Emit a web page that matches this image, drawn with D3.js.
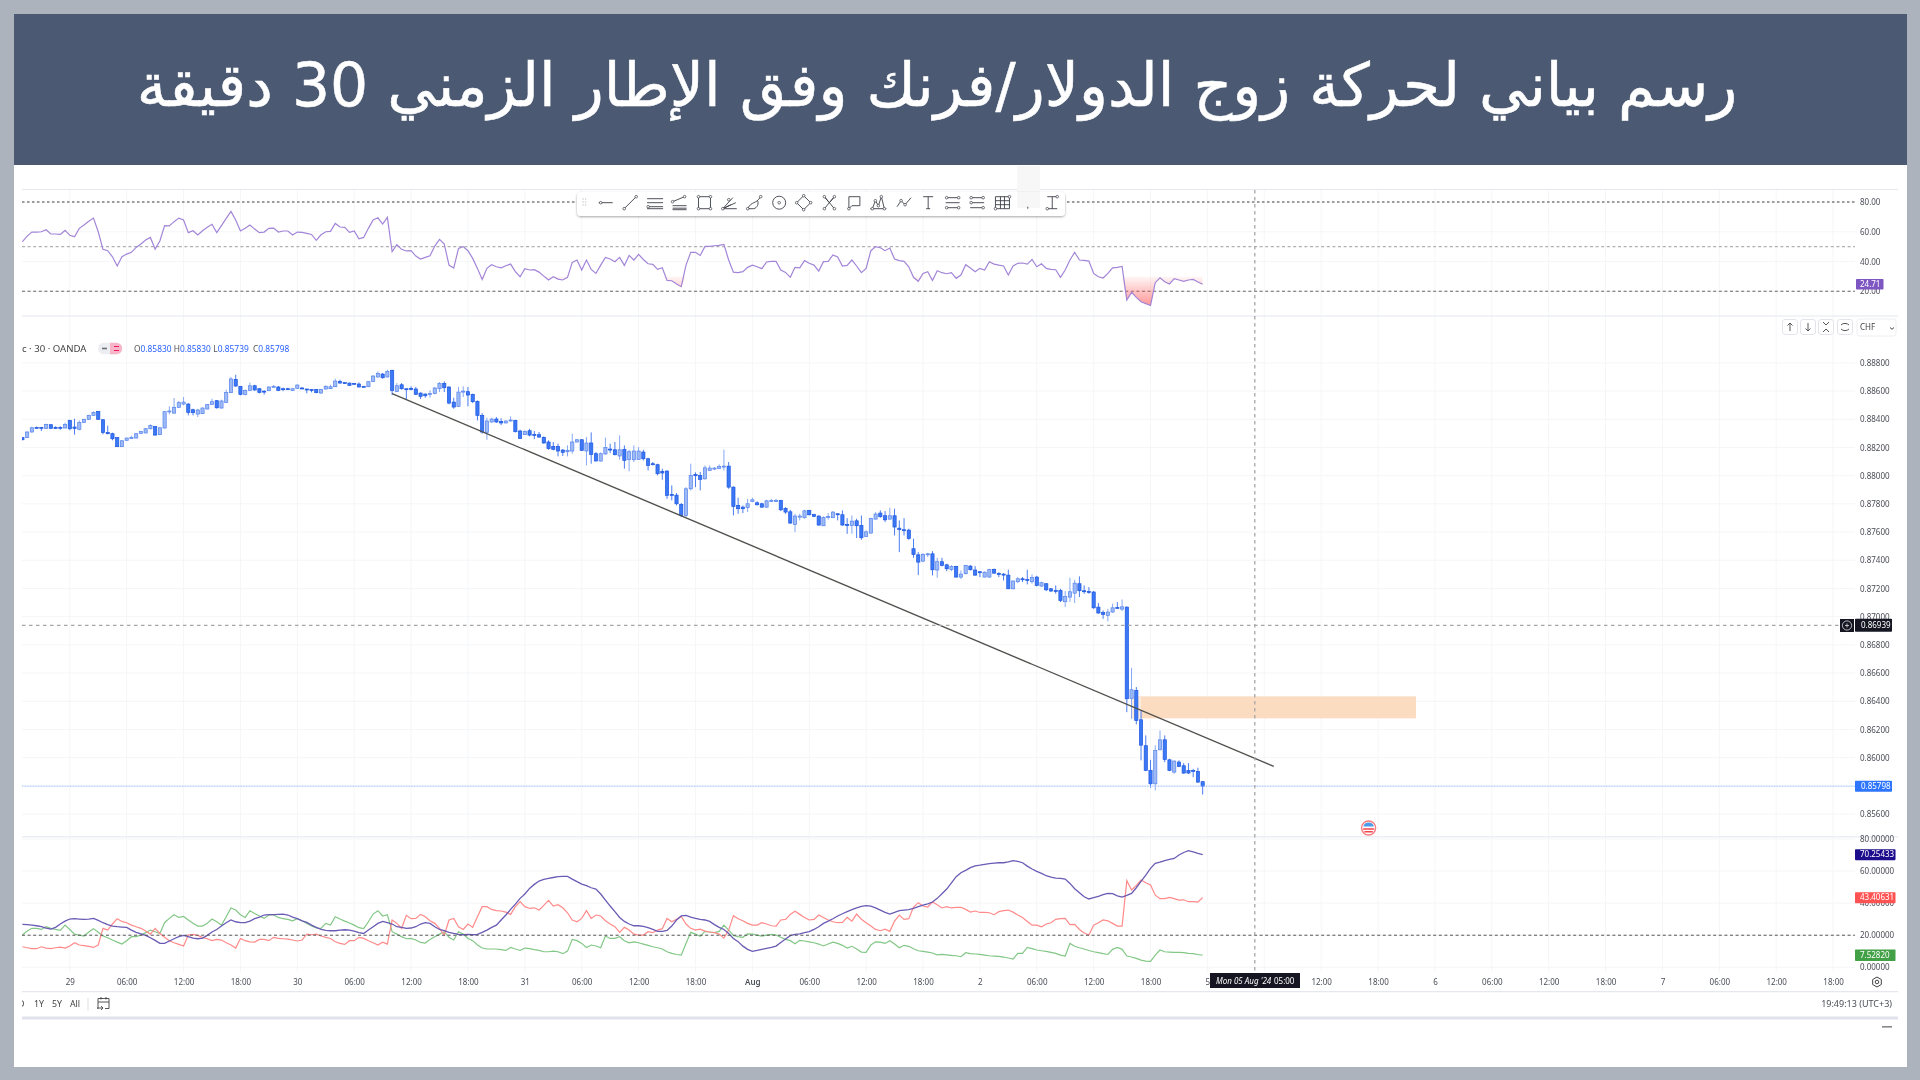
<!DOCTYPE html>
<html lang="ar"><head><meta charset="utf-8"><title>USD/CHF</title>
<script src="https://cdn.jsdelivr.net/npm/d3@7"></script>
<style>html,body{margin:0;padding:0;background:#adb3bd;width:1920px;height:1080px;overflow:hidden}svg{display:block}text{font-family:"Noto Sans",sans-serif}</style>
</head><body><svg id="c" width="1920" height="1080"></svg>
<script>
const titleText="رسم بياني لحركة زوج الدولار/فرنك وفق الإطار الزمني 30 دقيقة";
const firstBar=-10;
const opens=[88270,88270,88310,88343,88343,88336,88362,88343,88343,88338,
88392,88345,88329,88378,88400,88428,88456,88397,88307,88298,
88270,88206,88251,88265,88267,88300,88303,88333,88348,88291,
88338,88452,88444,88485,88508,88508,88468,88437,88440,88473,
88506,88532,88480,88520,88589,88683,88634,88577,88605,88638,
88617,88600,88603,88631,88629,88617,88617,88605,88619,88622,
88615,88612,88612,88586,88615,88617,88631,88669,88660,88657,
88655,88650,88634,88631,88669,88700,88721,88700,88747,88598,
88645,88617,88619,88615,88586,88579,88577,88582,88617,88655,
88629,88522,88492,88596,88596,88577,88527,88428,88307,88381,
88402,88385,88374,88388,88392,88317,88291,88319,88293,88291,
88272,88239,88208,88208,88182,88170,88175,88239,88255,88175,
88232,88156,88104,88154,88189,88184,88140,88187,88114,88113,
88115,88168,88120,88085,88078,88031,88033,87867,87862,87796,
87718,87907,88009,88002,87978,88038,88047,88052,88061,88068,
87919,87789,87777,87775,87818,87808,87801,87777,87822,87822,
87825,87768,87744,87654,87706,87702,87754,87725,87714,87645,
87706,87702,87730,87723,87654,87647,87680,87647,87569,87593,
87692,87735,87716,87692,87716,87628,87617,87614,87482,87439,
87394,87442,87446,87331,87390,87368,87335,87357,87281,87305,
87359,87331,87319,87281,87281,87335,87307,87302,87295,87198,
87248,87269,87264,87248,87281,87217,87234,87198,87186,87186,
87106,87139,87167,87234,87184,87179,87175,87068,87030,87009,
87033,87066,87054,87068,86420,86477,86269,86085,85910,85815,
86056,86127,85985,85898,85969,85943,85910,85910,85903,85830];
const highs=[88274,88315,88347,88348,88345,88369,88364,88350,88350,88376,
88397,88404,88392,88404,88433,88456,88458,88400,88355,88305,
88274,88251,88270,88284,88303,88317,88338,88364,88352,88343,
88458,88492,88551,88530,88558,88515,88475,88473,88485,88508,
88546,88537,88539,88610,88700,88716,88636,88612,88660,88645,
88622,88605,88634,88643,88636,88624,88624,88620,88648,88629,
88615,88612,88615,88615,88641,88645,88688,88681,88662,88660,
88657,88662,88636,88669,88712,88740,88728,88752,88752,88657,
88657,88617,88634,88629,88591,88584,88605,88629,88664,88669,
88634,88553,88629,88634,88629,88582,88534,88444,88411,88411,
88416,88407,88392,88421,88397,88326,88322,88333,88317,88310,
88279,88251,88239,88227,88189,88215,88298,88260,88260,88274,
88307,88168,88165,88270,88227,88239,88286,88215,88184,88215,
88203,88184,88127,88097,88085,88050,88038,87931,87877,87806,
87919,88085,88024,88026,88073,88073,88061,88080,88184,88097,
87924,87844,87789,87836,87844,87818,87808,87829,87836,87836,
87829,87777,87758,87730,87730,87758,87758,87730,87718,87711,
87735,87749,87735,87754,87699,87718,87695,87718,87612,87702,
87742,87754,87749,87773,87766,87683,87699,87624,87553,87458,
87451,87453,87465,87418,87418,87375,87366,87361,87328,87368,
87366,87359,87323,87321,87340,87342,87316,87309,87333,87257,
87281,87281,87333,87300,87290,87248,87238,87203,87222,87198,
87182,87276,87262,87286,87222,87210,87182,87097,87045,87056,
87092,87104,87122,87073,86638,86501,86335,86158,85985,86087,
86193,86158,85992,85981,85981,85962,85962,85921,85929,85830];
const lows=[88251,88270,88305,88333,88317,88333,88333,88331,88326,88336,
88322,88291,88322,88376,88397,88426,88397,88293,88293,88251,
88203,88203,88248,88262,88265,88298,88300,88329,88286,88288,
88336,88435,88440,88480,88499,88428,88428,88416,88437,88470,
88504,88475,88475,88515,88586,88631,88570,88570,88603,88603,
88584,88575,88600,88629,88600,88600,88610,88603,88617,88615,
88584,88591,88584,88582,88610,88615,88629,88653,88653,88638,
88648,88627,88627,88629,88667,88697,88688,88697,88572,88593,
88610,88539,88605,88572,88544,88553,88553,88577,88593,88593,
88506,88475,88487,88558,88492,88515,88392,88298,88255,88374,
88374,88359,88371,88383,88307,88260,88288,88279,88260,88270,
88227,88184,88180,88137,88140,88137,88156,88236,88175,88073,
88085,88104,88100,88149,88161,88144,88114,88050,88031,88097,
88113,88108,88037,88073,88002,87971,87836,87825,87789,87706,
87706,87896,87919,87896,87971,88033,88040,88047,88037,87907,
87718,87730,87735,87742,87813,87789,87773,87773,87813,87813,
87749,87730,87659,87600,87683,87695,87718,87706,87645,87643,
87688,87700,87683,87645,87588,87588,87558,87546,87565,87590,
87690,87702,87671,87688,87576,87458,87576,87546,87418,87295,
87387,87423,87293,87276,87357,87323,87323,87279,87267,87300,
87328,87290,87281,87279,87276,87305,87281,87257,87196,87193,
87238,87245,87229,87234,87215,87212,87182,87175,87163,87104,
87068,87104,87097,87139,87163,87163,87056,87021,86985,86966,
87028,87056,87040,86323,86276,86236,85981,85905,85787,85768,
86052,85969,85905,85886,85933,85886,85886,85862,85820,85739];
const closes=[88255,88310,88340,88338,88336,88364,88336,88338,88336,88364,
88333,88336,88378,88400,88428,88449,88400,88307,88298,88262,
88206,88248,88267,88270,88298,88314,88333,88357,88288,88340,
88454,88459,88485,88518,88522,88449,88447,88466,88480,88504,
88525,88482,88530,88591,88686,88636,88577,88605,88638,88608,
88591,88593,88629,88634,88605,88612,88615,88617,88643,88617,
88612,88610,88589,88612,88634,88631,88671,88657,88655,88641,
88650,88629,88629,88667,88707,88726,88695,88740,88605,88638,
88617,88610,88612,88577,88563,88567,88582,88622,88653,88624,
88515,88487,88593,88600,88572,88525,88428,88310,88388,88402,
88381,88374,88388,88395,88312,88265,88314,88288,88288,88274,
88232,88192,88187,88175,88166,88180,88239,88255,88180,88232,
88151,88104,88156,88199,88184,88149,88184,88109,88170,88175,
88175,88120,88073,88080,88014,88019,87860,87862,87801,87718,
87907,88002,88000,87974,88056,88054,88054,88066,88068,87919,
87782,87766,87766,87801,87829,87794,87777,87822,87825,87825,
87758,87742,87664,87714,87714,87751,87723,87711,87650,87704,
87711,87742,87725,87650,87650,87678,87645,87560,87602,87697,
87728,87709,87687,87716,87636,87617,87614,87555,87442,87387,
87442,87446,87333,87390,87364,87340,87357,87281,87302,87364,
87333,87295,87316,87316,87335,87309,87302,87295,87198,87253,
87269,87264,87260,87279,87222,87241,87191,87182,87184,87115,
87144,87177,87238,87184,87177,87175,87063,87026,87016,87033,
87063,87063,87070,86418,86482,86264,86089,85910,85815,86052,
86127,85988,85910,85976,85938,85891,85891,85905,85827,85798];
const rsiValues=[53.3,57.1,59.8,59.8,60,61.4,58.5,58.5,58.2,60.9,
57.6,56.7,62.3,64.5,67,69.2,60,48.2,47.3,43.2,
37,43.2,45,46.2,49.5,51.8,54.4,56.2,48.4,53.8,
64.1,63.9,66.8,69.2,67.9,59.4,60.7,57.8,60.7,63,
65,59.4,64.1,69,73.7,67.9,60.5,62.3,64.5,61.8,
59.4,59.8,62.3,62.5,59.8,60.5,60.5,57.8,59.8,59.6,
58.9,58.2,54.2,58,60,60.3,65.6,63.2,63,59.6,
60.5,55.3,56.2,62.3,67.9,69.4,65.2,69.7,46.6,51.3,
48.2,47.1,47.3,43.7,41.7,42.8,43.9,50.4,54.9,51.8,
37.6,35.6,48.8,50,47.3,42.1,35.4,28,35.4,37.9,
36.5,35.8,37.2,38.3,33.2,29.8,35.2,34.3,34.5,32.9,
30.2,27.6,29.8,28.2,27.6,29.4,39.4,41,34.3,41,
34.7,32,37.6,42.8,41.7,39.9,42.8,37.4,44.1,41,
44.8,41.4,38.5,38.1,34.7,35.8,27.3,27.1,24.9,23.1,
37.6,46.2,46.2,44.1,50.2,50.2,50.6,50.9,51.5,41,
32.9,32.5,33.2,36.1,37.6,36.5,35.2,39.7,40.1,40.1,
34.3,32.7,29.4,36.1,35.8,40.6,38.8,37.6,33.6,39.9,
40.1,44.4,43,37,37.4,41,37,32.5,35.4,47.3,
50,49.3,47.3,49.1,41.7,40.6,40.1,36.5,29.4,26.7,
32,33.2,27.3,33.8,32.5,31.8,32.5,28.7,30.9,37.9,
35.6,33.2,35.4,34.3,39.9,38.3,37.6,37,30.9,37,
38.8,39,38.3,41.4,36.5,38.5,35.4,34.7,34.5,29.4,
34.3,41,46.2,41,40.8,40.3,32,29.8,28.9,32,
35.8,36.1,36.7,14.1,19.3,15.9,13,11.7,10.5,25.8,
29.1,26.4,24.9,28.5,27.6,26.7,27.6,28,26.2,24.71];
const adxValues=[26.8,26.6,26.3,25.9,25.3,24.5,23.8,24.9,27,28.8,
30.1,30.3,30.1,29.9,30.1,30.5,29.3,27.8,26.6,25.7,
25.3,25.1,24.9,23.2,21.8,20.9,19.9,18.4,16.8,14.9,
14.9,16.4,17.8,19.1,19.9,19.1,18.2,17.8,18.2,19.9,
22,23.6,25.7,27.8,29.5,28.4,27.8,27.8,28.8,30.3,
31.3,32.6,32.8,32.8,33,33.2,32.6,31.3,30.3,29,
28,26.3,24.9,23.6,23,22.8,22.8,23.2,23.4,23.2,
22.6,21.6,21.1,23.2,25.3,27.4,28.6,27.8,27,25.3,
24.9,24.3,24.5,25.3,27,27.8,27.4,25.3,23.6,22.8,
21.8,21.1,20.5,20.3,20.5,20.3,20.5,21.8,23.2,24.9,
26.3,29.5,32.6,36.1,39.4,43,45.7,49.2,51.7,53.8,
54.8,55.4,56,56.5,56.7,56.7,55,53.4,51.9,50.9,
49.6,48.8,45.7,41.9,38.2,34.7,31.1,28.6,27,25.9,
25.9,25.5,24.7,23.6,22.4,22.4,23,25.7,29.5,32,
32.4,31.3,30.5,29.9,29.5,28.6,26.6,24.9,23.6,21.1,
18,16,13.2,11.2,9.9,10.5,11.2,11.8,12.4,13.2,
15.5,17.6,19.7,20.5,20.9,21.6,22.2,23.6,25.3,27.4,
28.8,30.3,32,33.4,34.7,35.9,37,38,38.4,38.2,
37.1,35.7,34.2,33.2,34.2,35.3,35.7,35.9,36.7,37.8,
38.8,39.6,40.7,43,45.9,48.8,52.7,56.5,59,60.4,
62.1,63.3,63.7,64.2,64.6,65,65.2,65.2,65.8,66.5,
66,65.2,63.1,61.3,59.8,58.6,57.1,56.3,55.6,55.4,
55,52.3,49,46.5,44,42.6,43.4,44.2,45.3,46.1,
45.9,44.6,43.8,44.8,46.1,49.6,53.6,57.5,61.7,64.8,
65.6,66.5,67.3,67.9,70,71.6,72.7,71.9,71,70.25];
const plusDiValues=[12.8,12.2,11.6,11.6,12.8,12,11.6,12.2,12.6,12,
13.3,15.3,13.9,13.5,13,12.4,13.9,24.3,23.2,27,
30.3,28.6,27.8,26.3,25.3,24.3,22.6,20.7,24.3,21.1,
18.7,16.6,15.3,14.3,13.3,20.1,20.5,19.9,18.7,17.8,
16.6,17.4,17,15.3,13.9,12,18,16.6,15.9,15.7,
17.4,17.4,16.6,18.7,18,17.8,17.6,17,16.4,17,
20.7,20.3,20.7,19.5,18.7,18,15.9,14.9,14.3,16.6,
16.6,18.7,18,16.6,15.3,13.9,15.7,14.5,29.5,27.4,
24.3,32.4,30.3,30.5,33,31.5,29,27.4,24.3,20.1,
29.5,30.5,25.3,23.6,27,24.9,31.5,37.8,37.8,36.1,
35.3,35.1,34.4,33,37.8,40.9,37.8,36.7,37.1,35.7,
38.6,41.7,38.2,39,37.1,34,29.5,28.4,30.5,35.3,
30.5,32.6,32,29,27,25.3,21.8,24.9,23.2,20.7,
20.1,20.1,22.2,21.6,23.2,24.1,30.5,28.4,29.9,31.7,
27,24.3,23.2,23.8,22.6,22,21.6,20.7,18.2,23.2,
32.2,30.3,29,27.4,26.3,26.3,27.8,27,25.9,25.7,
29.5,29.9,33,34.9,33,31.1,29.5,29.9,32.6,31.1,
29.5,28.4,27.8,28,31.1,28.8,33.2,29.9,27.8,25.7,
23.6,22.8,23.8,22.4,28.8,32.6,29.9,30.3,37.6,40.3,
38.2,37.6,40.7,39,37,37.8,37,37.4,37.4,36.1,
34.4,35.1,34.2,34.2,34,32.8,34.7,35.3,35.7,34.4,
32.6,31.1,28.6,26.3,26.3,25.3,27,27.8,29.9,30.3,
30.5,26.6,26.8,23.6,21.4,20.1,26.3,27.8,29.5,29,
27.4,25.7,25.7,54,48.2,51.1,54.4,52.7,51.3,45,
42.8,42.8,43.6,42.8,41.9,42.1,40.9,40.9,40.7,43.41];
const minusDiValues=[20.1,22.6,24.3,24.3,23.6,25.3,24.3,23.6,23,26.3,
23.6,20.7,20.1,19.5,22,24.1,21.8,19.5,18.4,17,
15.7,14.5,16.6,19.1,19.1,20.1,21.6,23.2,22.2,21.1,
27.8,30.5,32.8,31.1,31.7,29.5,27.4,25.7,25.7,27.4,
30.1,28.4,26.3,31.5,37,35.7,32.8,31.1,35.3,33.6,
32,30.5,32.6,32.6,31.1,30.3,29.9,29,30.3,29,
27.4,25.7,24.5,24.3,27.4,26.3,31.5,30.1,28.8,27.6,
26.3,24.7,24.1,28.4,33.2,35.3,32,32.8,22.2,20.7,
19.1,17.8,18,17,15.5,15.1,17.4,19.1,20.7,22.2,
18.7,17,22.2,20.7,18,16.6,13.9,12,11.4,11.4,
11.4,11,10.5,12.4,11.4,10.5,12,11.6,11,10.5,
9.7,9.7,10.1,9.7,8.5,10.1,17.4,16.6,14.9,12.4,
13.9,13.3,12.2,19.5,18,18,19.1,16.6,15.3,15.9,
15.3,14.5,13.7,12.8,12.2,11.4,9.7,8.7,8,7.6,
14.9,21.8,20.7,19.3,22.4,22,21.6,22.4,26.3,23.2,
19.9,19.1,18.7,20.9,20.7,20.1,19.5,20.1,20.5,20.1,
18.7,17.4,16.6,14.7,16.8,16.4,15.9,15.3,14.5,13.3,
14.5,15.7,14.9,13.7,12,13.1,11.4,9.5,9.3,13.9,
15.9,15.7,14.9,16.6,14.5,12.2,13.7,13.1,11.6,10.3,
9.9,9.5,8.9,7.8,8,7.8,7.4,7.2,6.6,9.1,
8.5,8.3,8,7.6,7.2,7,6.8,6.4,5.8,5.1,
8.7,8.7,12.4,11.6,10.8,10.3,9.9,9.3,8.7,7.6,
7,14.9,13.1,12.2,11.4,10.5,9.7,9.1,8.5,8,
11.2,12.4,11.2,7,6.4,5.6,4.5,3.9,3.7,7.6,
10.8,9.7,9.5,9.3,9.3,9.1,8.7,8.5,8,7.53];
const priceTicks=[.888,.886,.884,.882,.88,.878,.876,.874,.872,.87,.868,.866,.864,.862,.86,.858,.856];
const rsiTicks=[80,60,40,20];
const rsiBands=[80,50,20];
const dmiTicks=[80,60,40,20,0];
const timeLabels=["29","06:00","12:00","18:00","30","06:00","12:00","18:00","31","06:00","12:00","18:00","Aug","06:00","12:00","18:00","2","06:00","12:00","18:00","5","06:00","12:00","18:00","6","06:00","12:00","18:00","7","06:00","12:00","18:00"];
const timeTickStep=12;
const trendIdx=[68,254], trendPrice=[.88582,.85938];
const zoneIdx=[224,226,284], zonePrice=[.86435,.86279];
const crossIdx=250, crossPrice=.86939, lastPrice=.85798;
const legendLabels=["O","H","L","C"], legendValues=["0.85830","0.85830","0.85739","0.85798"];
const rangeButtons=["D","1Y","5Y","All"];

const svg=d3.select("#c");
const L=22,R=1898,AX=1855;
svg.append("rect").attr("x",14).attr("y",14).attr("width",1893).attr("height",1053).attr("fill","#fff");
svg.append("rect").attr("x",14).attr("y",14).attr("width",1893).attr("height",151).attr("fill","#4b5a72");
svg.append("text").attr("x",937).attr("y",106).attr("text-anchor","middle").attr("direction","rtl")
  .attr("fill","#fff").attr("stroke","#fff").attr("stroke-width",.5).style("font-family","'DejaVu Sans'").attr("font-size",60).text(titleText);

const defs=svg.append("defs");
defs.append("clipPath").attr("id","plot").append("rect").attr("x",L).attr("y",189).attr("width",R-L).attr("height",785);
defs.append("filter").attr("id","soft").attr("x",0).attr("y",0).attr("width",1).attr("height",1).append("feGaussianBlur").attr("stdDeviation",.42);
const g=svg.append("g").attr("filter","url(#soft)");

const x=d3.scaleLinear().domain([0,240]).range([69.8,1207.4]);
const y=d3.scaleLinear().domain([.888,.856]).range([362.9,814.1]);
const ry=d3.scaleLinear().domain([80,20]).range([202,291.3]);
const dy=d3.scaleLinear().domain([80,0]).range([839,967.3]);
const idx=i=>firstBar+i;
const timeTicks=timeLabels.map((_,i)=>i*timeTickStep);

// grid
const grid=g.append("g").attr("stroke","#f5f6f8").attr("stroke-width",1);
grid.selectAll("line.v").data(timeTicks).join("line").attr("x1",d=>x(d)).attr("x2",d=>x(d)).attr("y1",190).attr("y2",972);
grid.selectAll("line.p").data(priceTicks).join("line").attr("class","p").attr("x1",L).attr("x2",AX).attr("y1",d=>y(d)).attr("y2",d=>y(d));
grid.selectAll("line.r").data(rsiTicks).join("line").attr("class","r").attr("x1",L).attr("x2",AX).attr("y1",d=>ry(d)).attr("y2",d=>ry(d));
grid.selectAll("line.d").data(dmiTicks).join("line").attr("class","d").attr("x1",L).attr("x2",AX).attr("y1",d=>dy(d)).attr("y2",d=>dy(d));

// pane separators
[[189.5,1,"#e6e8ee"],[316,1.2,"#e6e8f0"],[836.7,1.4,"#eceef4"],[991.7,1.2,"#e6e8f0"],[1018,3,"#e0e3eb"]].forEach(([yy,w,c])=>
  g.append("line").attr("x1",L).attr("x2",R).attr("y1",yy).attr("y2",yy).attr("stroke",c).attr("stroke-width",w));

// RSI bands
g.selectAll("line.band").data(rsiBands).join("line").attr("class","band").attr("x1",L).attr("x2",AX)
 .attr("y1",d=>ry(d)).attr("y2",d=>ry(d)).attr("stroke",d=>d===50?"#b0b0b0":d===20?"#666":"#808080")
 .attr("stroke-width",d=>d===80?1.6:1.1).attr("stroke-dasharray",d=>d===80?"2.5 2.5":"3 2.6");

// RSI oversold fill
const grad=defs.append("linearGradient").attr("id","os").attr("gradientUnits","userSpaceOnUse").attr("x1",0).attr("x2",0).attr("y1",ry(31)).attr("y2",ry(10));
grad.append("stop").attr("offset",0).attr("stop-color","#ff5252").attr("stop-opacity",.02);
grad.append("stop").attr("offset",1).attr("stop-color","#ff5252").attr("stop-opacity",.62);
const pg=g.append("g").attr("clip-path","url(#plot)");
pg.append("path").datum(rsiValues).attr("fill","url(#os)")
  .attr("d",d3.area().x((d,i)=>x(idx(i))).y0(ry(30)).y1(d=>ry(Math.min(d,30))));
const ln=(sc)=>d3.line().x((d,i)=>x(idx(i))).y(d=>sc(d));
pg.append("path").datum(rsiValues).attr("fill","none").attr("stroke","#a285d8").attr("stroke-width",1.2).attr("d",ln(ry));

// price crosshair + last price
g.append("line").attr("x1",L).attr("x2",1840).attr("y1",y(crossPrice)).attr("y2",y(crossPrice)).attr("stroke","#a6a6a6").attr("stroke-width",1.3).attr("stroke-dasharray","3.5 3.5");
g.append("line").attr("x1",L).attr("x2",AX).attr("y1",y(lastPrice)).attr("y2",y(lastPrice)).attr("stroke","#9cc0ff").attr("stroke-width",1).attr("stroke-dasharray","1 .6");

// zone
pg.append("rect").attr("x",x(zoneIdx[0])).attr("width",x(zoneIdx[2])-x(zoneIdx[0])).attr("y",y(zonePrice[0])).attr("height",y(zonePrice[1])-y(zonePrice[0])).attr("fill","#fbdcc1");
pg.append("rect").attr("x",x(zoneIdx[0])).attr("width",x(zoneIdx[1])-x(zoneIdx[0])).attr("y",y(zonePrice[0])).attr("height",y(zonePrice[1])-y(zonePrice[0])).attr("fill","#fdeadb");

// candles
const bars=opens.map((o,i)=>({i:idx(i),o,h:highs[i],l:lows[i],c:closes[i]}));
const cg=pg.append("g");
cg.selectAll("line").data(bars).join("line").attr("x1",d=>x(d.i)).attr("x2",d=>x(d.i)).attr("y1",d=>y(d.h/1e5)).attr("y2",d=>y(d.l/1e5))
  .attr("stroke",d=>d.c>=d.o?"#86a8f4":"#4a7cf0").attr("stroke-width",1);
cg.selectAll("rect").data(bars).join("rect").attr("x",d=>x(d.i)-1.6).attr("width",3.2)
  .attr("y",d=>y(Math.max(d.o,d.c)/1e5)).attr("height",d=>Math.max(1,Math.abs(y(d.o/1e5)-y(d.c/1e5))))
  .attr("fill",d=>d.c>=d.o?"#9dbaf5":"#3b78f5").attr("stroke",d=>d.c>=d.o?"#5684ee":"#1f57e0").attr("stroke-width",.7);

// trend line
pg.append("line").attr("x1",x(trendIdx[0])).attr("y1",y(trendPrice[0])).attr("x2",x(trendIdx[1])).attr("y2",y(trendPrice[1])).attr("stroke","#50504c").attr("stroke-width",1.3);

// DMI
g.append("line").attr("x1",L).attr("x2",AX).attr("y1",dy(20)).attr("y2",dy(20)).attr("stroke","#555").attr("stroke-dasharray","3 2.6");
pg.append("path").datum(minusDiValues).attr("fill","none").attr("stroke","#82c785").attr("stroke-width",1.2).attr("d",ln(dy));
pg.append("path").datum(plusDiValues).attr("fill","none").attr("stroke","#ff8a8a").attr("stroke-width",1.2).attr("d",ln(dy));
pg.append("path").datum(adxValues).attr("fill","none").attr("stroke","#6a5bb5").attr("stroke-width",1.3).attr("d",ln(dy));

// time crosshair
g.append("line").attr("x1",x(crossIdx)).attr("x2",x(crossIdx)).attr("y1",190).attr("y2",972).attr("stroke","#a6a6a6").attr("stroke-width",1.3).attr("stroke-dasharray","3.5 3.5");

// axes
const style=(s,fs=8,fill="#4a4d57")=>{s.select(".domain").remove();s.selectAll("line").remove();s.selectAll("text").attr("fill",fill).attr("font-size",fs).style("font-family","'Noto Sans'");};
const axG=g.append("g");
axG.append("g").attr("transform","translate(1860,0)").call(d3.axisRight(y).tickValues(priceTicks).tickSize(0).tickPadding(0).tickFormat(d3.format(".5f"))).call(style);
axG.append("g").attr("transform","translate(1860,0)").call(d3.axisRight(ry).tickValues(rsiTicks).tickSize(0).tickPadding(0).tickFormat(d3.format(".2f"))).call(style);
axG.append("g").attr("transform","translate(1860,0)").call(d3.axisRight(dy).tickValues(dmiTicks).tickSize(0).tickPadding(0).tickFormat(d3.format(".5f"))).call(style);
const tAx=axG.append("g").attr("transform","translate(0,979)").call(d3.axisBottom(x).tickValues(timeTicks).tickSize(0).tickPadding(0).tickFormat((d,i)=>timeLabels[i])).call(style);
tAx.selectAll("text").filter(function(){return this.textContent==="Aug";}).attr("font-weight",600);

// badges
const badge=(x0,x1,yc,h,fill,txt,tx=x0+5)=>{g.append("rect").attr("x",x0).attr("width",x1-x0).attr("y",yc-h/2).attr("height",h).attr("fill",fill).attr("rx",.8);
  g.append("text").attr("x",tx).attr("y",yc+.5).attr("dominant-baseline","middle").attr("fill","#fff").attr("font-size",8).text(txt);};
badge(1856,1883.5,ry(rsiValues[249]),10.5,"#7e57c2","24.71",1860);
badge(1855,1892,y(crossPrice),13,"#131722",d3.format(".5f")(crossPrice),1861);
g.append("rect").attr("x",1840).attr("y",619).attr("width",14).attr("height",13).attr("fill","#131722");
g.append("circle").attr("cx",1847).attr("cy",625.5).attr("r",4.6).attr("fill","none").attr("stroke","#ddd").attr("stroke-width",.8);
g.append("path").attr("d","M1845 625.5h4M1847 623.5v4").attr("stroke","#ddd").attr("stroke-width",.8);
badge(1855,1892,y(lastPrice),11,"#2f76ff",d3.format(".5f")(lastPrice),1861);
badge(1855,1895.5,dy(adxValues[249]),11,"#1d0a8c",d3.format(".5f")(70.25433),1860);
badge(1855,1895.5,dy(plusDiValues[249]),11,"#ff5252",d3.format(".5f")(43.40631),1860);
badge(1855,1895.5,dy(minusDiValues[249]),11.5,"#43a047",d3.format(".5f")(7.5282),1860);

// crosshair time label
g.append("rect").attr("x",1210).attr("y",973).attr("width",90).attr("height",15).attr("fill","#131722");
g.append("text").attr("x",1216).attr("y",982).attr("dominant-baseline","middle").attr("fill","#fff").attr("font-size",8).attr("font-style","italic").text("Mon 05 Aug '24");
g.append("text").attr("x",1274).attr("y",982).attr("dominant-baseline","middle").attr("fill","#fff").attr("font-size",8).text("05:00");

// legend
g.append("text").attr("x",22).attr("y",351.5).attr("font-size",9.6).attr("fill","#444").text("c · 30 · OANDA");
g.append("rect").attr("x",98).attr("y",342.7).attr("width",24).attr("height",11.5).attr("rx",5.5).attr("fill","#eceef2");
g.append("path").attr("d","M110 342.7h6.5a5.7 5.7 0 0 1 0 11.5h-6.5z").attr("fill","#f6b6c8");
g.append("path").attr("d","M102 348.5h5").attr("stroke","#6d6f78").attr("stroke-width",1.6);
g.append("path").attr("d","M114 346.5h5M114 350.5h5").attr("stroke","#e91e63").attr("stroke-width",1.1);
const lx=d3.scalePoint().domain(legendLabels).range([134,253]);
legendLabels.forEach((k,i)=>{const t=g.append("text").attr("x",lx(k)).attr("y",351.5).attr("font-size",8.4);
  t.append("tspan").attr("fill","#555").text(k);t.append("tspan").attr("fill","#2962ff").text(legendValues[i]);});

// bottom bar
const rx=[22,39,57,75];
rangeButtons.forEach((t,i)=>g.append("text").attr("x",i?rx[i]:18).attr("y",1005).attr("text-anchor",i?"middle":"start").attr("dominant-baseline","middle").attr("font-size",8.8).attr("fill","#444").text(t));
g.append("rect").attr("x",14).attr("y",995).attr("width",8).attr("height",18).attr("fill","#fff");
g.append("line").attr("x1",88).attr("x2",88).attr("y1",998).attr("y2",1011).attr("stroke","#dfe1e6");
g.append("path").attr("d","M98 1009v-10.5h11v10h-4M98 1002h11M101 997v2.5M106 997v2.5M97 1008h6M101 1006l2 2-2 2").attr("fill","none").attr("stroke","#444").attr("stroke-width",.9);
g.append("text").attr("x",1892).attr("y",1005).attr("text-anchor","end").attr("dominant-baseline","middle").attr("font-size",9).attr("fill","#4a4d57").text("19:49:13 (UTC+3)");
g.append("rect").attr("x",1882).attr("y",1026).attr("width",10).attr("height",1.6).attr("fill","#888");
// settings gear
g.append("path").attr("d",d3.line().curve(d3.curveLinearClosed)(d3.range(6).map(k=>[1877+5*Math.sin(k*Math.PI/3),982+5*Math.cos(k*Math.PI/3)]))).attr("fill","none").attr("stroke","#444");
g.append("circle").attr("cx",1877).attr("cy",982).attr("r",1.8).attr("fill","none").attr("stroke","#444");

// price scale buttons
[[1790,"M0 4V-4M-2.5 -1.5L0 -4L2.5 -1.5"],[1808,"M0 -4V4M-2.5 1.5L0 4L2.5 1.5"],[1826,"M-3 -5L0 -2L3 -5M-3 5L0 2L3 5"],[1845,"M-4 -2a5 4 0 0 1 8 0M4 2a5 4 0 0 1 -8 0"]].forEach(([cx,p])=>{
  const b=g.append("g").attr("transform",`translate(${cx},327)`);
  b.append("rect").attr("x",-7.5).attr("y",-7.5).attr("width",15).attr("height",15).attr("rx",2.5).attr("fill","#fff").attr("stroke","#e3e5ea");
  b.append("path").attr("d",p).attr("fill","none").attr("stroke","#444").attr("stroke-width",.9);});
g.append("rect").attr("x",1857).attr("y",319).attr("width",39).attr("height",17).attr("rx",2.5).attr("fill","#fff").attr("stroke","#eceef2");
g.append("text").attr("x",1860).attr("y",328).attr("dominant-baseline","middle").attr("font-size",8).attr("fill","#444").text("CHF");
g.append("path").attr("d","M1890 327.5l2 1.8 2-1.8").attr("fill","none").attr("stroke","#444");

// flag marker
const f=g.append("g").attr("transform","translate(1368.6,828)");
f.append("circle").attr("r",7).attr("fill","#fff").attr("stroke","#f77c80").attr("stroke-width",1.4);
f.append("path").attr("d","M-5.3 -1.5A5.5 5.5 0 0 1 5.3 -1.5Z").attr("fill","#4b9be8");
f.append("path").attr("d","M-5.5 1H5.5M-4.2 3.7H4.2").attr("stroke","#f0464b").attr("stroke-width",1.5);

// patch + toolbar
g.append("rect").attr("x",1017).attr("y",166).attr("width",23).attr("height",42).attr("fill","#f7f7f8");
const shadow=defs.append("filter").attr("id","sh").attr("x","-5%").attr("y","-30%").attr("width","110%").attr("height","170%");
shadow.append("feDropShadow").attr("dx",0).attr("dy",1).attr("stdDeviation",1.2).attr("flood-color","#000").attr("flood-opacity",.35);
g.append("rect").attr("x",577).attr("y",192).attr("width",488).attr("height",24).attr("rx",4).attr("fill","#fff").attr("filter","url(#sh)");
g.append("rect").attr("x",1017).attr("y",192).attr("width",23).attr("height",16).attr("fill","#f7f7f8");
const icons=[
 ["M-7 0H7",[[-5,0]]],
 ["M-6 6L6 -6",[[-6,6],[6,-6]]],
 ["M-8 -4H8M-8 0H8M-8 4H8M-8 6H8",[[-7,4]]],
 ["M-7 -1L5 -6M-7 3H7M-7 5.5H7M-7 7H7",[[-7,-1],[5,-6]]],
 ["M-6 -6H6V6H-6Z",[[-6,-6],[6,-6],[-6,6],[6,6]]],
 ["M-7 6H7M-7 6L3 -5M-7 6L6 0M-7 6L1 2",[[-7,6],[-1,-3]]],
 ["M-7 6C-3 -2 1 2 6 -6M-7 6H-1C3 5 4 1 3 -2",[[-7,6],[6,-6]]],
 ["",[[0,0]]],
 ["M0 -7L7 0L0 7L-7 0Z",[[0,-7],[7,0],[0,7],[-7,0]]],
 ["M-5 6L5 -6M5 6L-5 -6M-5 -6L0 0L5 -6",[[-5,6],[5,6],[-5,-6],[5,-6]]],
 ["M-5 -6H6V3H-2L-5 6Z",[[-5,6]]],
 ["M-8 6H8M-6 6L-3 -2L0 3L3 -6L6 6",[[-6,6],[-3,-2],[0,3],[3,-6],[6,6]]],
 ["M-7 4L-3 -2L1 2L7 -5",[[-3,-2],[1,2]]],
 ["M-5 -6H5M0 -6V6M-2 6H2",[]],
 ["M-7 -5H7M-7 0H7M-7 5H7",[[-6,-5],[6,-5],[-6,5],[6,5]]],
 ["M-7 -5H7M-7 0H7M-7 5H7",[[-6,-5],[6,-5],[-6,0],[6,5]]],
 ["M-7 -6H7V6H-7ZM-7 -2H7M-7 2H7M-2 -6V6M2 -6V6",[[-7,6],[7,-6]]],
 ["M0 4V6",[]],
 ["M-5 -6H5M0 -6V6M-5 6H5",[[-5,6],[5,-6]]]];
const iconX=[112,172,233,293,354,416,477,537,597,660,720,780,843,902,962,1022,1084,1146,1206];
icons.forEach(([p,ds],i)=>{const ig=g.append("g").attr("transform",`translate(${560+iconX[i]/2.45},202.7)`);
  ig.append("path").attr("d",p).attr("fill","none").attr("stroke","#3b3e46").attr("stroke-width",.9);
  ig.selectAll("circle").data(ds).join("circle").attr("cx",d=>d[0]).attr("cy",d=>d[1]).attr("r",1.3).attr("fill","#fff").attr("stroke","#3b3e46").attr("stroke-width",.7);
  if(i===7){ig.append("circle").attr("r",6.5).attr("fill","none").attr("stroke","#3b3e46").attr("stroke-width",.9);}
});
d3.range(3).forEach(r=>d3.range(2).forEach(c=>g.append("circle").attr("cx",583+c*2.6).attr("cy",199+r*3).attr("r",.8).attr("fill","#c9ccd3")));
</script></body></html>
